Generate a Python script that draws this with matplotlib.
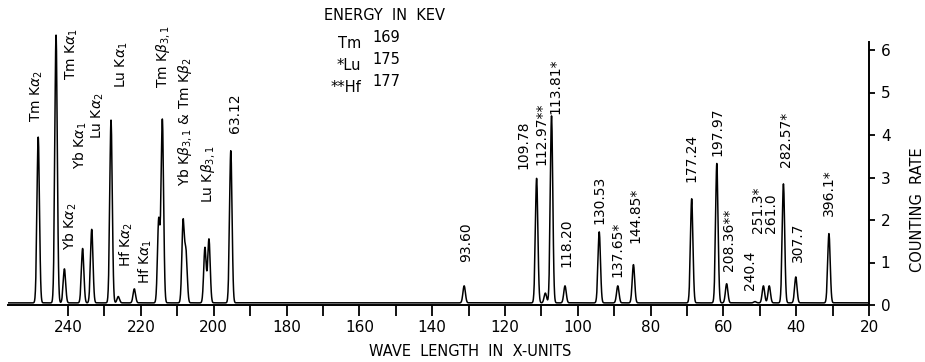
import numpy as np
import matplotlib
matplotlib.use('Agg')
import matplotlib.pyplot as plt

plt.rcParams['font.family'] = ['DejaVu Sans']
plt.rcParams['mathtext.fontset'] = 'dejavusans'

# peak positions (wave length, X-units) and heights (counting rate)
peak_pos = [248.2, 243.3, 241.0, 236.0, 233.5, 228.2, 226.2, 221.8, 215.1, 214.1,
            208.4, 207.6, 202.4, 201.3, 195.3, 131.2, 111.3, 108.9, 107.2, 103.5,
            94.1, 89.0, 84.7, 68.7, 61.8, 59.1, 51.3, 49.0, 47.4, 43.5, 40.1, 31.0]
peak_h = [3.95, 6.35, 0.85, 1.33, 1.78, 4.35, 0.2, 0.38, 2.0, 4.35,
          1.95, 1.2, 1.35, 1.55, 3.63, 0.45, 2.98, 0.28, 4.45, 0.45,
          1.72, 0.45, 0.95, 2.5, 3.33, 0.5, 0.08, 0.45, 0.45, 2.85, 0.66, 1.68]
baseline = 0.05

# peak labels: text, x, y (bottom of rotated text)
labels = [r'Tm K$\alpha_2$', r'Tm K$\alpha_1$', r'Yb K$\alpha_2$', r'Yb K$\alpha_1$',
          r'Lu K$\alpha_2$', r'Lu K$\alpha_1$', r'Hf K$\alpha_2$', r'Hf K$\alpha_1$',
          r'Tm K$\beta_{3,1}$', r'Yb K$\beta_{3,1}$ & Tm K$\beta_2$', r'Lu K$\beta_{3,1}$',
          '63.12', '93.60', '109.78', '112.97**', '113.81*', '118.20', '130.53',
          '137.65*', '144.85*', '177.24', '197.97', '208.36**', '240.4', '251.3*',
          '261.0', '282.57*', '307.7', '396.1*']
label_x = [248.6, 239.0, 239.5, 236.7, 231.8, 225.3, 223.9, 218.9, 213.8, 207.9, 201.5,
           194.1, 130.7, 115.0, 109.9, 106.2, 103.0, 94.0, 89.1, 84.2, 68.7, 61.7,
           58.4, 52.6, 50.4, 46.9, 42.7, 39.4, 31.0]
label_y = [4.3, 5.3, 1.3, 3.2, 3.9, 5.1, 0.9, 0.5, 5.1, 2.8, 2.4, 4.05, 1.0, 3.2,
           3.3, 4.5, 0.9, 1.9, 0.65, 1.45, 2.9, 3.5, 0.8, 0.35, 1.7, 1.7, 3.25,
           1.0, 2.1]

ticks = np.arange(20, 250, 10)
ticklabels = [str(t) if t % 20 == 0 else '' for t in ticks]

x = np.arange(20, 256.6, 0.02)
y = np.full_like(x, baseline)
for p, h in zip(peak_pos, peak_h):
    y += (h - baseline) * np.exp(-0.5 * ((x - p) / 0.34) ** 2)

fig = plt.figure(figsize=(9.25, 3.62), dpi=100)
ax = fig.add_axes([8 / 925, 57 / 362, 861 / 925, 276.25 / 362])
ax.plot(x, y, color='black', lw=1.1)
ax.set_xlim(256.5, 20)
ax.set_ylim(0, 6.5)

for s in ['top', 'left']:
    ax.spines[s].set_visible(False)
ax.spines['bottom'].set_linewidth(1.4)
ax.spines['right'].set_linewidth(1.4)
ax.spines['right'].set_bounds(0, 6.2)

ax.set_xticks(ticks)
ax.set_xticklabels(ticklabels, fontsize=11)
ax.tick_params(axis='x', direction='out', length=8, width=1.3, pad=3)
ax.yaxis.tick_right()
ax.set_yticks(range(7))
ax.tick_params(axis='y', direction='out', length=4.5, width=1.3, pad=4, labelsize=11)

for t, lx, ly in zip(labels, label_x, label_y):
    ax.text(lx, ly, t, rotation=90, ha='center', va='bottom', fontsize=10)

fig.text(470 / 925, 1 - 352 / 362, 'WAVE  LENGTH  IN  X-UNITS', ha='center',
         va='center', fontsize=10.5)
fig.text(918 / 925, 1 - 210 / 362, 'COUNTING  RATE', rotation=90, ha='center',
         va='center', fontsize=10.5)

fig.text(385 / 925, 1 - 15 / 362, 'ENERGY  IN  KEV', ha='center', va='center', fontsize=10.5)
for i, (name, mass) in enumerate([('Tm', '169'), ('*Lu', '175'), ('**Hf', '177')]):
    yy = 1 - (43 + 22 * i) / 362
    fig.text(361 / 925, yy, name, ha='right', va='center', fontsize=10.5)
    fig.text(372 / 925, yy + 5 / 362, mass, ha='left', va='center', fontsize=10.5)

fig.savefig('out.png', dpi=100)
